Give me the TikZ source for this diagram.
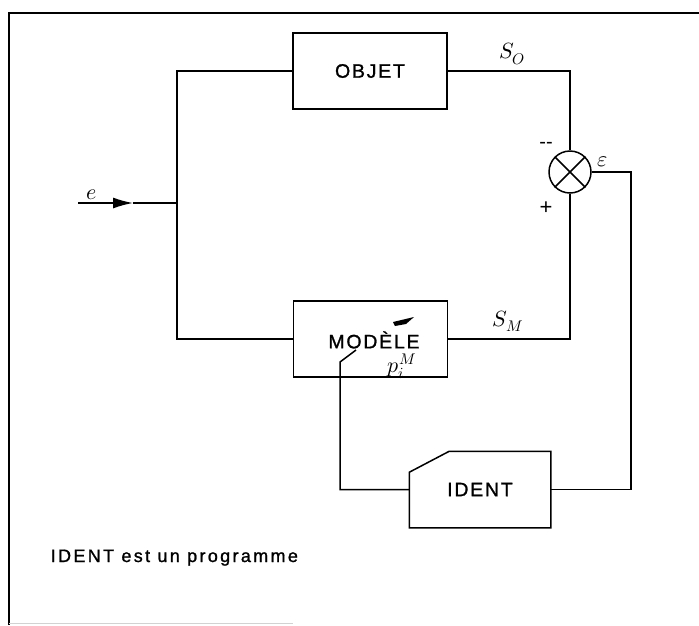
\documentclass[tikz,border=0pt]{standalone}
\usepackage{fontspec}
\usepackage{unicode-math}
\setmainfont{Liberation Sans}
\setmathfont{Latin Modern Math}
\newfontfamily\boxfont[LetterSpace=9,FakeBold=1.2]{Liberation Sans}
\newfontfamily\capfont[LetterSpace=13,FakeBold=1.2]{Liberation Sans}
\usetikzlibrary{arrows.meta,calc}
\begin{document}
\begin{tikzpicture}[x=1pt,y=-1pt,line width=1.5pt,
  blockbox/.style={draw,minimum width=154pt,minimum height=76pt,inner sep=0pt,
    font=\boxfont\fontsize{19.5}{21}\selectfont},
  boxtext/.style={inner sep=0pt,font=\boxfont\fontsize{19.5}{21}\selectfont},
  lbl/.style={inner sep=0pt,font=\fontsize{22}{24}\selectfont},
  smalllbl/.style={inner sep=0pt,font=\fontsize{22}{24}\selectfont}]
\useasboundingbox (0,0) rectangle (699,625);
% frame
\draw[line width=1.3pt] (9,625) -- (9,13) -- (699,13);
\draw[gray!35,line width=1pt] (9,623) -- (293,623);
% blocks
\node[blockbox] (objet) at (370,71) {OBJET};
\node[blockbox] (modele) at (370.5,339) {};
\node[boxtext] (modeletxt) at (374,340) {MODÈLE};
\node[minimum width=140pt,minimum height=75pt,inner sep=0pt,
  font=\boxfont\fontsize{19.5}{21}\selectfont] (ident) at (480,489.5) {IDENT};
\draw (ident.south west) -- ($(ident.north west)+(0,21)$) -- ($(ident.north west)+(40,0)$)
  -- (ident.north east) -- (ident.south east) -- cycle;
% comparator
\node[circle,draw,minimum size=42pt,inner sep=0pt] (sum) at (570,172) {};
\draw (sum.north west) -- (sum.south east) (sum.north east) -- (sum.south west);
% coordinates
\coordinate (in) at (78,203);
\coordinate (tip) at (133,203);
\coordinate (jn) at (177,203);
\coordinate (jt) at (177,71);
\coordinate (jb) at (177,339);
\coordinate (rc) at (631,489.5);
\coordinate (lc) at (340,362);
\coordinate (pa) at (356,350);
% connectors
\draw[-{Latex[length=20pt,width=11pt]}] (in) -- (tip);
\draw (tip) -- (jn);
\draw (objet.west) -- (jt) -- (jb) -- (modele.west);
\draw (objet.east) -| (sum.north);
\draw (modele.east) -| (sum.south);
\draw (sum.east) -| (rc) -- (ident.east);
\draw (ident.west) -| (lc) -- (pa);
\fill (393,322) -- (414,317) -- (406,324) -- (395,326) -- cycle;
% labels
\node[lbl] (so) at (512,54) {$S_O$};
\node[lbl] (sm) at (508,321) {$S_M$};
\node[smalllbl] (e) at (92,195) {$e$};
\node[lbl] (eps) at (603,162) {$\varepsilon$};
\node[inner sep=0pt,font=\fontsize{20}{22}\selectfont] (minus) at (546,145) {-{}-};
\node[inner sep=0pt,font=\fontsize{22}{24}\selectfont] (plus) at (546,208) {+};
\node[smalllbl] (p) at (402,366) {$p_i^M$};
\node[anchor=base west,inner sep=0pt,font=\capfont\fontsize{18}{20}\selectfont] (cap)
  at (50,562) {IDENT est un programme};
\end{tikzpicture}
\end{document}
